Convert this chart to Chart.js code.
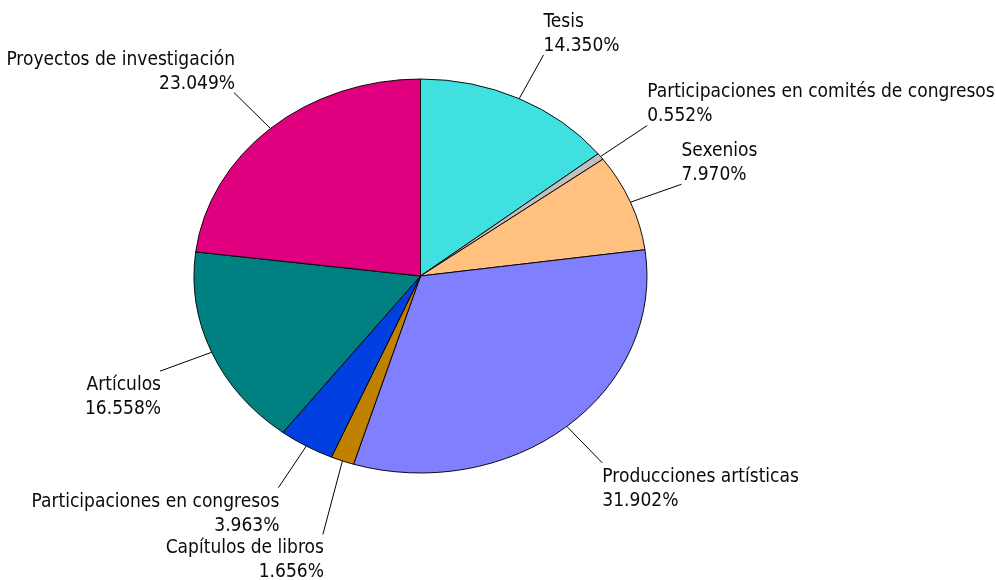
<!DOCTYPE html>
<html>
<head>
<meta charset="utf-8">
<script src="https://cdn.jsdelivr.net/npm/chart.js@4"></script>
<style>
    html, body { margin: 0; padding: 0; background: #ffffff; }
    #chart { display: block; }
</style>
</head>
<body>
<canvas id="chart" width="996" height="580"></canvas>
<script>
// Slices in clockwise order starting at 12 o'clock
const categories = [
    'Tesis',
    'Participaciones en comités de congresos',
    'Sexenios',
    'Producciones artísticas',
    'Capítulos de libros',
    'Participaciones en congresos',
    'Artículos',
    'Proyectos de investigación'
];
const shares = [14.350, 0.552, 7.970, 31.902, 1.656, 3.963, 16.558, 23.049];
const sliceColors = ['#40E0E0', '#C0C0C0', '#FFC080', '#8080FF', '#C08000', '#0040E0', '#008080', '#E0007F'];

// leader line length (px) and small turn (deg) per slice
const leaderLength = [50, 56, 54, 51, 76, 50, 55, 51];
const leaderTurn = [0, 0, 0, 0, -8, 0, 0, 0];

const squash = 197 / 226.5;   // pie is drawn as a flattened ellipse
const labelFont = '19px "DejaVu Sans Condensed", "DejaVu Sans", sans-serif';
const lineHeight = 24;

const ellipsePlugin = {
    id: 'ellipse',
    beforeDatasetsDraw(chart) {
        const arc = chart.getDatasetMeta(0).data[0];
        const ctx = chart.ctx;
        ctx.save();
        ctx.translate(arc.x, arc.y);
        ctx.scale(1, squash);
        ctx.translate(-arc.x, -arc.y);
    },
    afterDatasetsDraw(chart) {
        chart.ctx.restore();
    }
};

const labelPlugin = {
    id: 'sliceLabels',
    afterDraw(chart) {
        const ctx = chart.ctx;
        const arcs = chart.getDatasetMeta(0).data;
        ctx.save();
        ctx.font = labelFont;
        ctx.fillStyle = '#0a0a0a';
        ctx.strokeStyle = '#000000';
        ctx.lineWidth = 1;
        ctx.textBaseline = 'middle';

        arcs.forEach((arc, i) => {
            const mid = (arc.startAngle + arc.endAngle) / 2;
            const r = arc.outerRadius;
            const sx = arc.x + r * Math.cos(mid);
            const sy = arc.y + squash * r * Math.sin(mid);

            // radial direction in the flattened space, plus optional turn
            const dir = Math.atan2(squash * Math.sin(mid), Math.cos(mid)) + leaderTurn[i] * Math.PI / 180;
            const ex = sx + Math.cos(dir) * leaderLength[i];
            const ey = sy + Math.sin(dir) * leaderLength[i];

            ctx.beginPath();
            ctx.moveTo(sx, sy);
            ctx.lineTo(ex, ey);
            ctx.stroke();

            const lines = [categories[i], shares[i].toFixed(3) + '%'];
            const right = ex > arc.x;
            ctx.textAlign = right ? 'left' : 'right';
            const tx = right ? ex : ex + 1;
            const firstY = ey < arc.y ? ey - 9 - lineHeight : ey + 14;
            lines.forEach((t, j) => {
                ctx.fillText(t, tx, firstY + j * lineHeight);
            });
        });
        ctx.restore();
    }
};

new Chart(document.getElementById('chart').getContext('2d'), {
    type: 'pie',
    data: {
        labels: categories,
        datasets: [{
            data: shares,
            backgroundColor: sliceColors,
            borderColor: '#000000',
            borderWidth: 1
        }]
    },
    options: {
        responsive: false,
        animation: false,
        events: [],
        layout: {
            padding: { left: 193, right: 348, top: 49, bottom: 77 }
        },
        plugins: {
            legend: { display: false },
            tooltip: { enabled: false }
        }
    },
    plugins: [ellipsePlugin, labelPlugin]
});
</script>
</body>
</html>
